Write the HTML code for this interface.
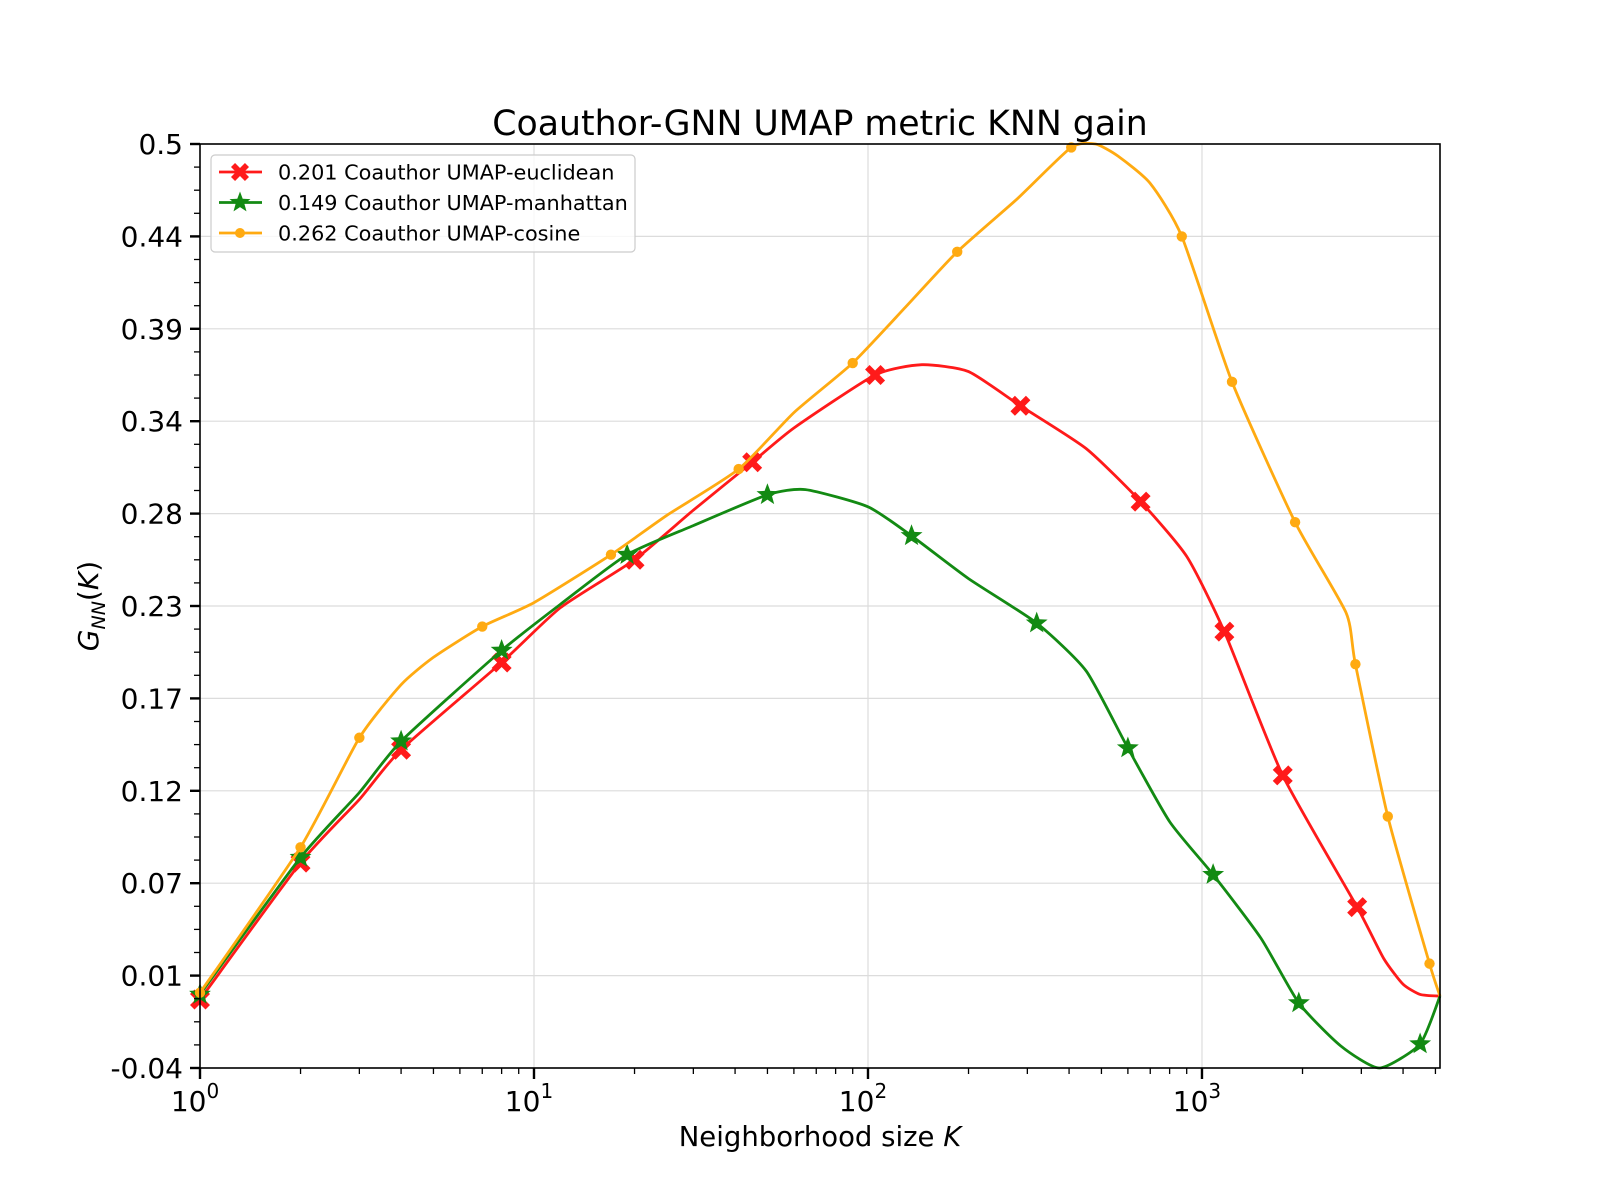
<!DOCTYPE html>
<html><head><meta charset="utf-8">
<style>
html,body{margin:0;padding:0;background:#fff;}
svg{display:block;font-family:"DejaVu Sans","Liberation Sans",sans-serif;}
</style></head>
<body>
<svg id="chart" width="1600" height="1200" viewBox="0 0 1600 1200">
<rect width="1600" height="1200" fill="#fff"/>
<text x="820" y="135" font-size="34.7" text-anchor="middle">Coauthor-GNN UMAP metric KNN gain</text>
<g id="grid"></g>
<g id="series"></g>
<rect x="200" y="144" width="1240" height="924" fill="none" stroke="#000" stroke-width="1.6"/>
<g id="axes"></g>
<text x="820" y="1146" font-size="27.5" text-anchor="middle">Neighborhood size <tspan font-style="italic">K</tspan></text>
<text transform="translate(98,606) rotate(-90)" font-size="28" text-anchor="middle"><tspan font-style="italic">G</tspan><tspan font-size="19" dy="7" font-style="italic">NN</tspan><tspan dy="-7">(</tspan><tspan font-style="italic">K</tspan>)</text>
<g id="legend"></g>
</svg>
<script>
const yTickLabels = ["-0.04","0.01","0.07","0.12","0.17","0.23","0.28","0.34","0.39","0.44","0.5"];
const xTickExps = [0,1,2,3];
const redK = [1,2,3,4,8,12,20,30,45,60,105,145,200,286,450,655,900,1167,1745,2915,3500,4000,4500,5160];
const redV = [0.000,0.080,0.117,0.146,0.197,0.229,0.257,0.286,0.314,0.334,0.365,0.371,0.367,0.347,0.322,0.291,0.259,0.215,0.131,0.054,0.024,0.009,0.003,0.002];
const redMarks = [0,1,3,4,6,8,10,13,15,17,18,19];
const greenK = [1,2,3,4,8,12,19,30,50,65,100,135,200,320,450,600,800,1080,1500,1950,2600,3400,4500,5160];
const greenV = [0.003,0.083,0.121,0.151,0.204,0.231,0.260,0.277,0.295,0.298,0.288,0.271,0.246,0.220,0.192,0.147,0.104,0.073,0.036,-0.002,-0.027,-0.040,-0.026,0.002];
const greenMarks = [0,1,3,4,6,8,11,13,15,17,19,22];
const orangeK = [1,2,3,4,5,7,10,17,25,41,60,90,130,185,280,406,480,560,700,870,1230,1900,2700,2880,3600,4800,5160];
const orangeV = [0.004,0.089,0.153,0.184,0.200,0.218,0.232,0.260,0.283,0.310,0.343,0.372,0.405,0.437,0.468,0.498,0.500,0.493,0.477,0.446,0.361,0.279,0.226,0.196,0.107,0.021,0.002];
const orangeMarks = [0,1,2,5,7,9,11,13,15,19,20,21,23,24,25];

const NS="http://www.w3.org/2000/svg";
const L=200,R=1440,T=144,B=1068, XMAX=5160, YMIN=-0.04, YMAX=0.5;
const xs = k => L + Math.log10(k)/Math.log10(XMAX)*(R-L);
const ys = v => B - (v-YMIN)/(YMAX-YMIN)*(B-T);
function mk(tag, attrs, parent){const e=document.createElementNS(NS,tag);for(const a in attrs)e.setAttribute(a,attrs[a]);parent.appendChild(e);return e;}
const grid=document.getElementById('grid'), axes=document.getElementById('axes'), ser=document.getElementById('series'), leg=document.getElementById('legend');

yTickLabels.forEach((lab,i)=>{
  const v = YMIN + i*(YMAX-YMIN)/10, y=ys(v);
  const g=mk('line',{x1:L,x2:R,y1:y,y2:y,stroke:'#dcdcdc','stroke-width':1.2},grid);
  
  
  const t=mk('line',{x1:L-10,x2:L,y1:y,y2:y,stroke:'#000','stroke-width':2.4},axes);
  
  
  const tx=mk('text',{x:L-17,y:y+10,'font-size':28,'text-anchor':'end'},axes);
  tx.textContent=lab;
  
  
});
for(let i=1;i<40;i++){ if(i%4===0) continue;
  const y=ys(YMIN+i*(YMAX-YMIN)/40);
  const t=mk('line',{x1:L-6,x2:L,y1:y,y2:y,stroke:'#000','stroke-width':1.3},axes);
  
  
}
xTickExps.forEach(e=>{
  const x=xs(Math.pow(10,e));
  if(e>0){const g=mk('line',{x1:x,x2:x,y1:T,y2:B,stroke:'#dcdcdc','stroke-width':1.2},grid);
  
  }
  const t=mk('line',{x1:x,x2:x,y1:B,y2:B+11,stroke:'#000','stroke-width':2.4},axes);
  
  
  const tx=mk('text',{x:x-5,y:1111,'font-size':28,'text-anchor':'middle'},axes);
  tx.innerHTML='10<tspan font-size="20" dy="-13">'+e+'</tspan>';
  
  
  for(let m=2;m<10;m++){const k=m*Math.pow(10,e); if(k>XMAX) break; const xm=xs(k);
    const mt=mk('line',{x1:xm,x2:xm,y1:B,y2:B+6,stroke:'#000','stroke-width':1.3},axes);
    
    }
});

function smoothPath(K,V){
  const p=K.map((k,i)=>[xs(k),ys(V[i])]);
  let d='M'+p[0][0].toFixed(1)+','+p[0][1].toFixed(1);
  for(let i=0;i<p.length-1;i++){
    const p0=p[Math.max(0,i-1)],p1=p[i],p2=p[i+1],p3=p[Math.min(p.length-1,i+2)];
    const c1=[p1[0]+(p2[0]-p0[0])/10,p1[1]+(p2[1]-p0[1])/10];
    const c2=[p2[0]-(p3[0]-p1[0])/10,p2[1]-(p3[1]-p1[1])/10];
    d+='C'+c1.map(n=>n.toFixed(1)).join(',')+' '+c2.map(n=>n.toFixed(1)).join(',')+' '+p2[0].toFixed(1)+','+p2[1].toFixed(1);
  }
  return d;
}
function xMarker(x,y,c,parent,s){
  const a=s||10,b=a*0.45;
  const pts=[[-a,-a+b],[-a+b,-a],[0,-b],[a-b,-a],[a,-a+b],[b,0],[a,a-b],[a-b,a],[0,b],[-a+b,a],[-a,a-b],[-b,0]].map(q=>(x+q[0])+','+(y+q[1])).join(' ');
  return mk('polygon',{points:pts,fill:c},parent);
}
function starMarker(x,y,c,parent,r){
  r=r||11.5;let pts=[];
  for(let i=0;i<10;i++){const rr=i%2?r*0.42:r;const a=-Math.PI/2+i*Math.PI/5;pts.push((x+rr*Math.cos(a)).toFixed(1)+','+(y+rr*Math.sin(a)).toFixed(1));}
  return mk('polygon',{points:pts.join(' '),fill:c},parent);
}
function dotMarker(x,y,c,parent,r){return mk('circle',{cx:x,cy:y,r:r||5.2,fill:c},parent);}

const defs=[
 {K:redK,V:redV,M:redMarks,c:'#ff1a1a',mf:xMarker,name:'euclidean'},
 {K:greenK,V:greenV,M:greenMarks,c:'#138a13',mf:starMarker,name:'manhattan'},
 {K:orangeK,V:orangeV,M:orangeMarks,c:'#ffaa11',mf:dotMarker,name:'cosine'}
];
defs.forEach(s=>{
  const g=mk('g',{},ser);
  
  
  const p=mk('path',{d:smoothPath(s.K,s.V),fill:'none',stroke:s.c,'stroke-width':2.8,'stroke-linejoin':'round'},g);
  
  
  s.M.forEach(i=>{
    const m=s.mf(xs(s.K[i]),ys(s.V[i]),s.c,g);
    
    
  });
});

const lb=mk('rect',{x:211,y:155,width:424,height:97,rx:4,fill:'#fff','fill-opacity':0.8,stroke:'#cccccc','stroke-width':1.2},leg);


const legLabels=["0.201 Coauthor UMAP-euclidean","0.149 Coauthor UMAP-manhattan","0.262 Coauthor UMAP-cosine"];
defs.forEach((s,i)=>{
  const y=172+i*30.5;
  const g=mk('g',{},leg);
  
  
  mk('line',{x1:219,x2:262,y1:y,y2:y,stroke:s.c,'stroke-width':2.8},g);
  s.mf(240,y,s.c,g, i===2?5:(i===0?9:11));
  const t=mk('text',{x:278,y:y+7.5,'font-size':20.8},g);
  t.textContent=legLabels[i];
});
</script>
</body></html>
